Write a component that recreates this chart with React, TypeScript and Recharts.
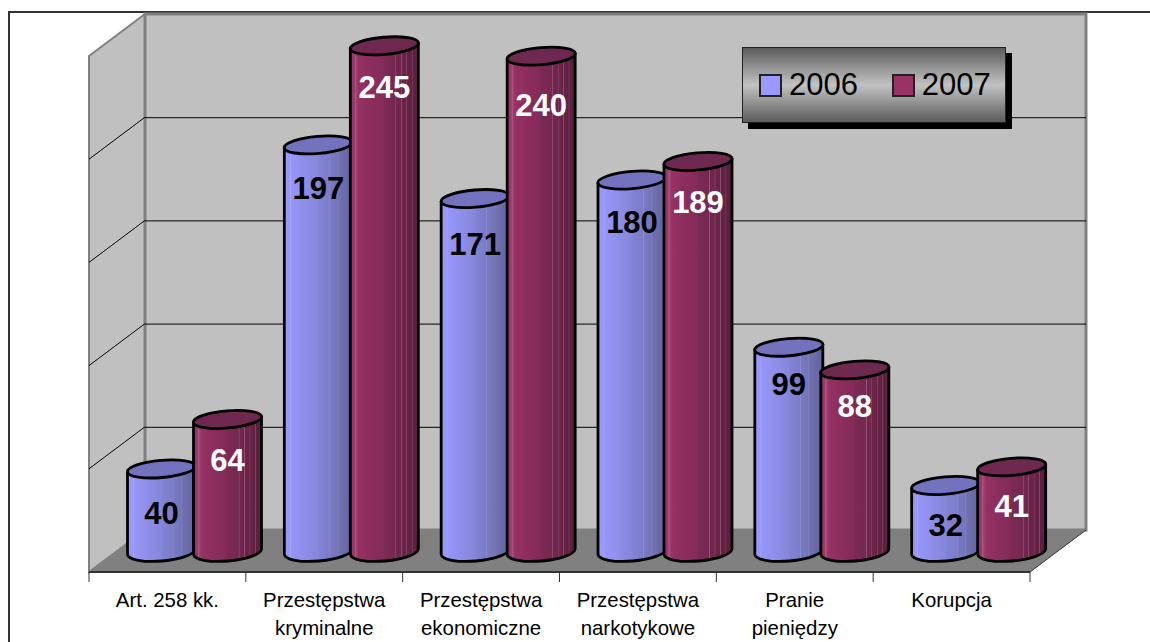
import React from "react";
import { BarChart, Bar, XAxis, YAxis, Legend, LabelList, Customized } from "recharts";

const categories = ["Art. 258 kk.", "Przestępstwa\nkryminalne", "Przestępstwa\nekonomiczne", "Przestępstwa\nnarkotykowe", "Pranie\npieniędzy", "Korupcja"];
const values2006 = [40, 197, 171, 180, 99, 32];
const values2007 = [64, 245, 240, 189, 88, 41];
const gridValues = [50, 100, 150, 200];
const labelDrop2006 = [44, 43, 45, 42, 37, 40];
const labelDrop2007 = [41, 41, 49, 41, 36, 39];

const data = categories.map((name, i) => ({ name, y2006: values2006[i], y2007: values2007[i] }));

const W = 1150, H = 642;
const PL = 89, PR = 1030, PT = 56, PB = 572;
const DX = 56, DY = 42; // full depth of the 3D box
const BX = 27.5, BY = 20.5; // bars stand half way into it
const FONT = '"Liberation Sans", Arial, sans-serif';

const blueStops: [number, string][] = [
  [0, "#9a9aff"], [8, "#9898fb"], [9, "#a6a6ff"], [10, "#9696f8"], [30, "#8e8eea"], [50, "#8686da"], [52, "#8282d4"],
  [66, "#7c7cc8"], [67, "#8c8cd0"], [68, "#7a7ac4"], [78, "#7474b8"], [79, "#8080bc"], [80, "#7272b4"], [90, "#6a6aa8"], [100, "#62629c"],
];
const purpleStops: [number, string][] = [
  [0, "#993366"], [6, "#993868"], [7, "#ae5a86"], [9, "#a0406f"], [12, "#963264"], [30, "#8b2d5d"], [48, "#842b59"],
  [50, "#7b2a53"], [66, "#762850"], [67, "#94587a"], [68, "#72264d"], [74, "#6f254b"], [75, "#8c5274"], [76, "#6c2449"],
  [82, "#692347"], [83, "#85506e"], [84, "#662245"], [90, "#622143"], [91, "#7c4a66"], [92, "#5e2040"], [100, "#582040"],
];

function Scene() {
  const unit = (PB - PT) / 250;
  return (
    <g>
      <defs>
        <linearGradient id="cylBlue" x1="0" y1="0" x2="1" y2="0">
          {blueStops.map(([o, c]) => <stop key={o} offset={`${o}%`} stopColor={c} />)}
        </linearGradient>
        <linearGradient id="cylPurple" x1="0" y1="0" x2="1" y2="0">
          {purpleStops.map(([o, c]) => <stop key={o} offset={`${o}%`} stopColor={c} />)}
        </linearGradient>
      </defs>
      <path d={`M9 ${H}V12H${W}`} fill="none" stroke="#333" strokeWidth={2} />
      <polygon points={`${PL},${PT} ${PL + DX},${PT - DY} ${PL + DX},${PB - DY} ${PL},${PB}`} fill="#c0c0c0" stroke="#808080" strokeWidth={2} />
      <polygon points={`${PL + DX},${PT - DY} ${PR + DX},${PT - DY} ${PR + DX},${PB - DY} ${PL + DX},${PB - DY}`} fill="#c0c0c0" stroke="#808080" strokeWidth={3} />
      <polygon points={`${PL},${PB} ${PL + DX},${PB - DY} ${PR + DX},${PB - DY} ${PR},${PB}`} fill="#808080" />
      <line x1={PR} y1={PB} x2={PR + DX} y2={PB - DY} stroke="#333" strokeWidth={1} />
      {gridValues.map((v) => {
        const y = PB - v * unit;
        return (
          <g key={v} stroke="#000" strokeWidth={1}>
            <line x1={PL} y1={y} x2={PL + DX} y2={y - DY} />
            <line x1={PL + DX} y1={y - DY + 0.5} x2={PR + DX} y2={y - DY + 0.5} />
          </g>
        );
      })}
    </g>
  );
}

function Cylinder(props: any) {
  const { x, y, width, height, gradient, cap } = props;
  const left = x + BX, top = y - BY, base = top + height;
  const t = 2.9, rx = width / 2;
  const rot = (-Math.atan((2 * t) / width) * 180) / Math.PI;
  const right = left + width;
  const body = `M${left} ${top + t}L${left} ${base + t}A${rx} 9.5 ${rot} 0 0 ${right} ${base - t}L${right} ${top - t}Z`;
  return (
    <g>
      <path d={body} fill={`url(#${gradient})`} stroke="#000" strokeWidth={2.8} strokeLinejoin="round" />
      <ellipse cx={left + rx} cy={top} rx={rx + 0.2} ry={8.6} transform={`rotate(${rot} ${left + rx} ${top})`} fill={cap} stroke="#000" strokeWidth={2.8} />
    </g>
  );
}

function ValueLabel(props: any) {
  const { x, y, width, value, color, index, drops } = props;
  return (
    <text x={x + BX + width / 2} y={y - BY + drops[index] + 11} textAnchor="middle" fontFamily={FONT} fontWeight={700} fontSize={31} fill={color}>
      {value}
    </text>
  );
}

function CategoryTick(props: any) {
  const { x, y, payload, index } = props;
  const band = (PR - PL) / categories.length;
  const lines = String(payload.value).split("\n");
  return (
    <g>
      <line x1={x - band / 2} y1={y} x2={x - band / 2} y2={y + 10} stroke="#333" />
      {index === categories.length - 1 && <line x1={x + band / 2} y1={y} x2={x + band / 2} y2={y + 10} stroke="#333" />}
      {lines.map((l, i) => (
        <text key={i} x={x} y={y + 34.5 + i * 28.5} textAnchor="middle" fontFamily={FONT} fontSize={20.4} fill="#000">{l}</text>
      ))}
    </g>
  );
}

function LegendBox(props: any) {
  const items = props.payload || [];
  return (
    <div style={{ position: "relative", width: 262, height: 74, border: "1px solid #222", boxShadow: "6px 6px 0 #000", background: "linear-gradient(to bottom, #5c5c5c 0%, #c2c2c2 50%, #5c5c5c 100%)", fontFamily: FONT, fontSize: 31, color: "#000" }}>
      {items.map((it: any, i: number) => (
        <React.Fragment key={it.value}>
          <div style={{ position: "absolute", left: 16, marginLeft: i * 132.7, top: 26, width: 19, height: 19, background: it.color, border: "2px solid #222" }} />
          <div style={{ position: "absolute", left: 46 + i * 132.7, top: 19, lineHeight: "36px" }}>{it.value}</div>
        </React.Fragment>
      ))}
    </div>
  );
}

export default function App() {
  return (
    <div style={{ position: "absolute", left: 0, top: 0, width: W, height: H, background: "#fff" }}>
      <BarChart width={W} height={H} data={data} margin={{ top: PT, left: PL, right: W - PR, bottom: 0 }} barSize={68} barGap={-2}>
        <Customized component={Scene} />
        <XAxis dataKey="name" height={H - PB} interval={0} tickLine={false} tickSize={0} tickMargin={0} axisLine={{ stroke: "#333", strokeWidth: 2 }} tick={<CategoryTick />} />
        <YAxis hide domain={[0, 250]} />
        <Legend layout="vertical" align="center" verticalAlign="middle" content={<LegendBox />} wrapperStyle={{ left: 742, top: 47, width: 264, height: 76 }} />
        <Bar dataKey="y2006" name="2006" fill="#9999ff" isAnimationActive={false} shape={<Cylinder gradient="cylBlue" cap="#7272bf" />}>
          <LabelList dataKey="y2006" content={<ValueLabel color="#000" drops={labelDrop2006} />} />
        </Bar>
        <Bar dataKey="y2007" name="2007" fill="#993366" isAnimationActive={false} shape={<Cylinder gradient="cylPurple" cap="#6f2950" />}>
          <LabelList dataKey="y2007" content={<ValueLabel color="#fff" drops={labelDrop2007} />} />
        </Bar>
      </BarChart>
    </div>
  );
}
